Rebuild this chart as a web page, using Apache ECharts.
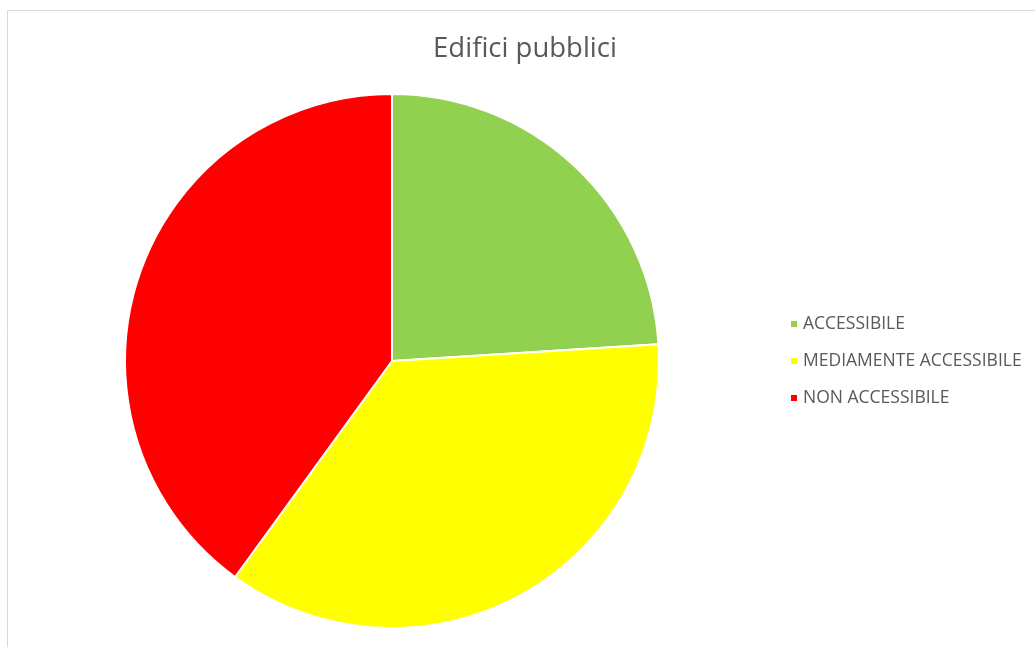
<!DOCTYPE html>
<html>
<head>
<meta charset="utf-8">
<script src="https://cdn.jsdelivr.net/npm/echarts@6/dist/echarts.min.js"></script>
<style>
  html, body { margin: 0; padding: 0; background: #fff; }
  #chart { width: 1035px; height: 647px; }
</style>
</head>
<body>
<div id="chart"></div>
<script>
// dati
const categories = ['ACCESSIBILE', 'MEDIAMENTE ACCESSIBILE', 'NON ACCESSIBILE']
const values = [6, 9, 10]
const colors = ['#92D050', '#FFFF00', '#FF0000']

const chart = echarts.init(document.getElementById('chart'))

chart.setOption({
  backgroundColor: '#fff',
  animation: false,
  graphic: [
    {
      type: 'rect',
      shape: { x: 7.5, y: 10.5, width: 1100, height: 700 },
      style: { fill: 'none', stroke: '#d9d9d9', lineWidth: 1 }
    }
  ],
  title: {
    text: 'Edifici pubblici',
    left: 520,
    textAlign: 'center',
    top: 30,
    textStyle: {
      fontFamily: 'Open Sans',
      fontSize: 27.5,
      fontWeight: 'normal',
      color: '#595959'
    }
  },
  legend: {
    orient: 'vertical',
    left: 784,
    top: 309,
    itemWidth: 8,
    itemHeight: 8,
    itemGap: 17,
    icon: 'rect',
    textStyle: {
      fontFamily: 'Open Sans',
      fontSize: 17.5,
      lineHeight: 20,
      color: '#595959'
    },
    data: categories
  },
  series: [
    {
      type: 'pie',
      center: [392, 361],
      radius: 267,
      startAngle: 90,
      clockwise: true,
      label: { show: false },
      labelLine: { show: false },
      itemStyle: {
        borderColor: '#fff',
        borderWidth: 2
      },
      data: categories.map((name, i) => ({
        name,
        value: values[i],
        itemStyle: { color: colors[i] }
      }))
    }
  ]
})
</script>
</body>
</html>
